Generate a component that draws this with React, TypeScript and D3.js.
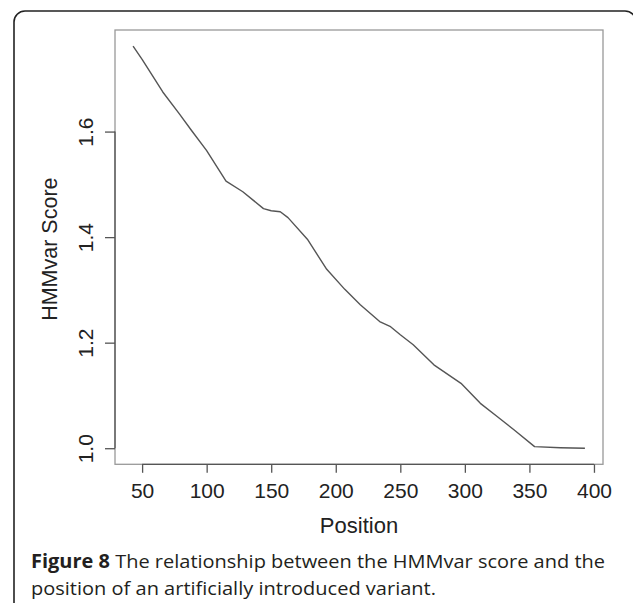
import React, { useEffect, useRef } from 'react';
import * as d3 from 'd3';

// HMMvar score, by position of the introduced variant
const positions = [43, 50, 58, 66, 79, 88, 100, 115, 128, 144, 150, 157, 163, 178, 193, 207, 219, 234, 242, 250, 260, 276, 297, 312, 325, 338, 354, 374, 393];
const scores = [1.762, 1.737, 1.706, 1.675, 1.633, 1.603, 1.564, 1.506, 1.486, 1.454, 1.450, 1.448, 1.437, 1.396, 1.339, 1.301, 1.272, 1.240, 1.231, 1.215, 1.196, 1.158, 1.123, 1.085, 1.060, 1.035, 1.003, 1.001, 1.000];
const xTicks = [50, 100, 150, 200, 250, 300, 350, 400];
const yTicks = [1.0, 1.2, 1.4, 1.6];
const xTitle = 'Position';
const yTitle = 'HMMvar Score';
const captionBold = 'Figure 8';
const captionLine1 = ' The relationship between the HMMvar score and the';
const captionLine2 = 'position of an artificially introduced variant.';

// R style axis range: data extent padded by 4% on each side
const padRange = (vals: number[]) => {
  const [lo, hi] = d3.extent(vals) as [number, number];
  const p = (hi - lo) * 0.04;
  return [lo - p, hi + p];
};

const App = () => {
  const ref = useRef<SVGSVGElement>(null);

  useEffect(() => {
    const svg = d3.select(ref.current);
    svg.selectAll('*').remove();

    const left = 115, right = 603, top = 30, bottom = 464.3;
    const axisFont = 'Liberation Sans, Arial, sans-serif';
    const x = d3.scaleLinear().domain(padRange(positions)).range([left, right]);
    const y = d3.scaleLinear().domain(padRange(scores)).range([bottom, top]);

    // outer figure frame
    svg.append('rect')
      .attr('x', 14).attr('y', 11)
      .attr('width', 622).attr('height', 610)
      .attr('rx', 11)
      .attr('fill', 'none').attr('stroke', '#222').attr('stroke-width', 1.6);

    // plot box
    svg.append('rect')
      .attr('x', left).attr('y', top)
      .attr('width', right - left).attr('height', bottom - top)
      .attr('fill', 'none').attr('stroke', '#999').attr('stroke-width', 1.3);

    // x axis
    const gx = svg.append('g').attr('transform', `translate(0,${bottom})`)
      .call(d3.axisBottom(x).tickValues(xTicks).tickSize(8.5).tickFormat(d3.format('d')));
    gx.select('.domain').remove();
    gx.append('line')
      .attr('x1', x(xTicks[0])).attr('x2', x(xTicks[xTicks.length - 1]))
      .attr('stroke', '#555').attr('stroke-width', 1.3);
    gx.selectAll('.tick line').attr('stroke', '#555').attr('stroke-width', 1.3);
    gx.selectAll('.tick text')
      .attr('y', 33.7).attr('dy', 0)
      .attr('fill', '#222')
      .style('font-family', axisFont).style('font-size', '21px');

    // y axis, labels turned parallel to the axis
    const gy = svg.append('g').attr('transform', `translate(${left},0)`)
      .call(d3.axisLeft(y).tickValues(yTicks).tickSize(10).tickFormat(d3.format('.1f')));
    gy.select('.domain').remove();
    gy.append('line')
      .attr('y1', y(yTicks[0])).attr('y2', y(yTicks[yTicks.length - 1]))
      .attr('stroke', '#555').attr('stroke-width', 1.3);
    gy.selectAll('.tick line').attr('stroke', '#555').attr('stroke-width', 1.3);
    gy.selectAll('.tick text')
      .attr('x', 0).attr('y', 0).attr('dy', 0)
      .attr('transform', 'translate(-22,0) rotate(-90)')
      .attr('text-anchor', 'middle')
      .attr('fill', '#222')
      .style('font-family', axisFont).style('font-size', '21px');

    // the score line
    const line = d3.line<number>()
      .x((d, i) => x(positions[i]))
      .y((d) => y(d));
    svg.append('path')
      .datum(scores)
      .attr('d', line)
      .attr('fill', 'none')
      .attr('stroke', '#555')
      .attr('stroke-width', 1.4)
      .attr('stroke-linejoin', 'round');

    // axis titles
    svg.append('text')
      .attr('x', (left + right) / 2).attr('y', 533)
      .attr('text-anchor', 'middle')
      .attr('fill', '#222')
      .style('font-family', axisFont).style('font-size', '22px')
      .text(xTitle);
    svg.append('text')
      .attr('transform', `translate(57,${(top + bottom) / 2 + 2}) rotate(-90)`)
      .attr('text-anchor', 'middle')
      .attr('fill', '#222')
      .style('font-family', axisFont).style('font-size', '21.5px')
      .text(yTitle);

    // caption
    const capFont = 'Open Sans, Noto Sans, sans-serif';
    const cap1 = svg.append('text')
      .attr('x', 31).attr('y', 568)
      .attr('textLength', 574).attr('lengthAdjust', 'spacingAndGlyphs')
      .attr('fill', '#231f20')
      .style('font-family', capFont).style('font-size', '19px');
    cap1.append('tspan').style('font-weight', 'bold').text(captionBold);
    cap1.append('tspan').text(captionLine1);
    svg.append('text')
      .attr('x', 31).attr('y', 595)
      .attr('textLength', 405).attr('lengthAdjust', 'spacingAndGlyphs')
      .attr('fill', '#231f20')
      .style('font-family', capFont).style('font-size', '19px')
      .text(captionLine2);
  }, []);

  return (
    <svg ref={ref} width={633} height={603}
      style={{ position: 'absolute', left: 0, top: 0, background: '#fff' }} />
  );
};

export default App;
